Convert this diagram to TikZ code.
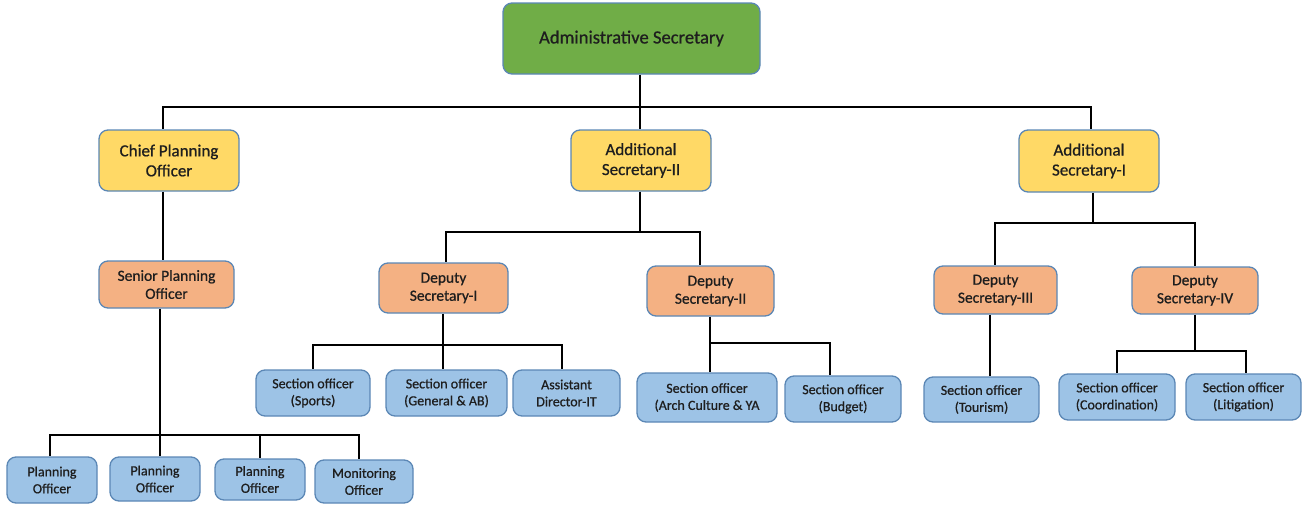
\documentclass[tikz,border=0pt]{standalone}
\usepackage{fontspec}
\setmainfont{Carlito}
\newfontfamily\diagfont{Carlito}[FakeBold=0.7]
\definecolor{cgreen}{HTML}{70AD47}
\definecolor{cyellow}{HTML}{FFD966}
\definecolor{corange}{HTML}{F4B183}
\definecolor{cblue}{HTML}{9DC3E6}
\definecolor{cline}{HTML}{5B87B5}
\definecolor{ctext}{HTML}{1E1E1E}
\tikzset{
  box/.style={draw=cline, line width=1.3pt, rounded corners=9pt, align=center, inner sep=0pt, text=ctext},
  lvlzero/.style={box, fill=cgreen, font=\diagfont\fontsize{18.6}{22}\selectfont},
  lvlone/.style={box, fill=cyellow, font=\diagfont\fontsize{17}{20}\selectfont},
  lvltwo/.style={box, fill=corange, font=\diagfont\fontsize{15.5}{18}\selectfont},
  lvlthree/.style={box, fill=cblue, font=\diagfont\fontsize{14}{17}\selectfont},
  conn/.style={draw=black, line width=2pt}
}
\begin{document}
\begin{tikzpicture}[x=1pt,y=-1pt]
\useasboundingbox (0,0) rectangle (1306,506);
% level 0
\node[lvlzero, minimum width=257pt, minimum height=71pt] (admin) at (631.5,38.5) {Administrative Secretary};
% level 1
\node[lvlone, minimum width=140pt, minimum height=61pt] (chief) at (169,160.5) {Chief Planning\\Officer};
\node[lvlone, minimum width=140pt, minimum height=61pt] (as2) at (641,160.5) {Additional\\Secretary-II};
\node[lvlone, minimum width=140pt, minimum height=62pt] (as1) at (1089,161) {Additional\\Secretary-I};
% level 2
\node[lvltwo, minimum width=135pt, minimum height=47pt] (senior) at (166.5,284.5) {Senior Planning\\Officer};
\node[lvltwo, minimum width=129pt, minimum height=50pt] (ds1) at (443.5,288) {Deputy\\Secretary-I};
\node[lvltwo, minimum width=127pt, minimum height=50pt] (ds2) at (710.5,291) {Deputy\\Secretary-II};
\node[lvltwo, minimum width=123pt, minimum height=48pt] (ds3) at (995.5,290) {Deputy\\Secretary-III};
\node[lvltwo, minimum width=126pt, minimum height=47pt] (ds4) at (1195,290.5) {Deputy\\Secretary-IV};
% level 3
\node[lvlthree, minimum width=114pt, minimum height=46pt] (sports) at (313,393) {Section officer\\(Sports)};
\node[lvlthree, minimum width=121pt, minimum height=46pt] (general) at (446.5,393) {Section officer\\(General \& AB)};
\node[lvlthree, minimum width=107pt, minimum height=46pt] (asst) at (566.5,393) {Assistant\\Director-IT};
\node[lvlthree, minimum width=140pt, minimum height=49pt] (arch) at (707,397.5) {Section officer\\(Arch Culture \& YA};
\node[lvlthree, minimum width=116pt, minimum height=46pt] (budget) at (843,399) {Section officer\\(Budget)};
\node[lvlthree, minimum width=115pt, minimum height=45pt] (tourism) at (981.5,399.5) {Section officer\\(Tourism)};
\node[lvlthree, minimum width=116pt, minimum height=46pt] (coord) at (1117,397) {Section officer\\(Coordination)};
\node[lvlthree, minimum width=115pt, minimum height=46pt] (litig) at (1243.5,397) {Section officer\\(Litigation)};
\node[lvlthree, minimum width=90pt, minimum height=46pt] (po1) at (52,480) {Planning\\Officer};
\node[lvlthree, minimum width=90pt, minimum height=44pt] (po2) at (155,479) {Planning\\Officer};
\node[lvlthree, minimum width=90pt, minimum height=41pt] (po3) at (260,479.5) {Planning\\Officer};
\node[lvlthree, minimum width=98pt, minimum height=43pt] (mo) at (364,481.5) {Monitoring\\Officer};
% junctions
\coordinate (j0) at (640,107);
\coordinate (jsp) at (160,435);
\coordinate (jas2) at (640,232);
\coordinate (jds1) at (443,345);
\coordinate (jds2) at (710,343);
\coordinate (jas1) at (1093,223);
\coordinate (jds4) at (1195,351);
% connectors
\draw[conn] ([xshift=8.5pt]admin.south) -- (j0);
\draw[conn] (j0) -| ([xshift=-6pt]chief.north);
\draw[conn] (j0) -| ([xshift=-1pt]as2.north);
\draw[conn] (j0) -| ([xshift=2pt]as1.north);
\draw[conn] ([xshift=-6pt]chief.south) -- ([xshift=-3.5pt]senior.north);
\draw[conn] ([xshift=-6.5pt]senior.south) -- (jsp);
\draw[conn] (jsp) -| ([xshift=-2pt]po1.north);
\draw[conn] (jsp) -| ([xshift=5pt]po2.north);
\draw[conn] (jsp) -| (po3.north);
\draw[conn] (jsp) -| ([xshift=-5pt]mo.north);
\draw[conn] ([xshift=-1pt]as2.south) -- (jas2);
\draw[conn] (jas2) -| ([xshift=2.5pt]ds1.north);
\draw[conn] (jas2) -| ([xshift=-10.5pt]ds2.north);
\draw[conn] ([xshift=-0.5pt]ds1.south) -- (jds1);
\draw[conn] (jds1) -| (sports.north);
\draw[conn] (jds1) -| ([xshift=-3.5pt]general.north);
\draw[conn] (jds1) -| ([xshift=-4.5pt]asst.north);
\draw[conn] ([xshift=-0.5pt]ds2.south) -- (jds2);
\draw[conn] (jds2) -| ([xshift=3pt]arch.north);
\draw[conn] (jds2) -| ([xshift=-13pt]budget.north);
\draw[conn] ([xshift=4pt]as1.south) -- (jas1);
\draw[conn] (jas1) -| ([xshift=-0.5pt]ds3.north);
\draw[conn] (jas1) -| (ds4.north);
\draw[conn] ([xshift=-5.5pt]ds3.south) -- ([xshift=8.5pt]tourism.north);
\draw[conn] (ds4.south) -- (jds4);
\draw[conn] (jds4) -| (coord.north);
\draw[conn] (jds4) -| ([xshift=2.5pt]litig.north);
\end{tikzpicture}
\end{document}
